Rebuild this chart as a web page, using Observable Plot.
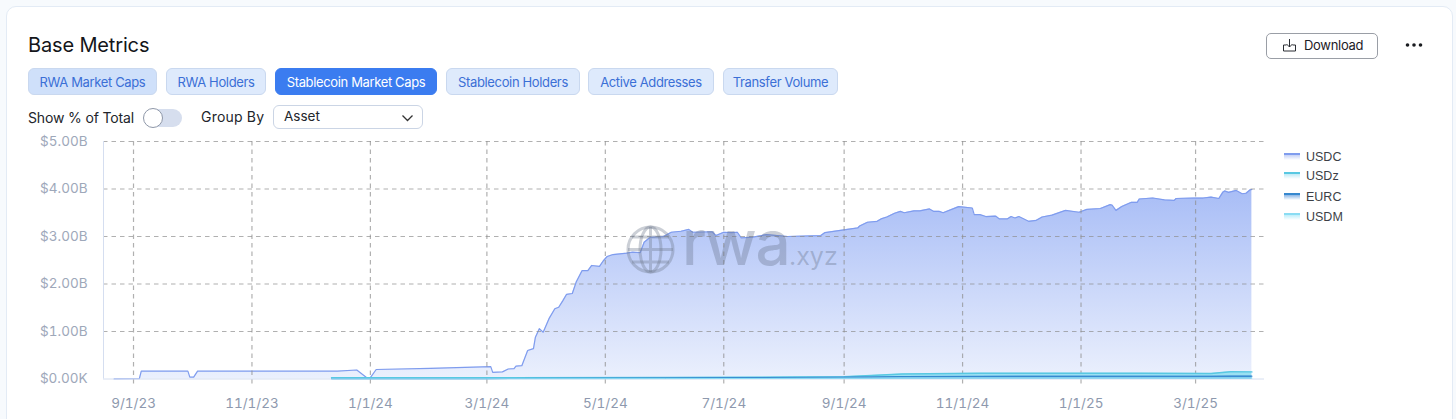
<!DOCTYPE html>
<html>
<head>
<meta charset="utf-8">
<script src="https://cdn.jsdelivr.net/npm/d3@7"></script>
<script src="https://cdn.jsdelivr.net/npm/@observablehq/plot@0.6"></script>
<style>
html,body{margin:0;padding:0;width:1456px;height:419px;overflow:hidden;background:#f7fafd;font-family:Inter,sans-serif;}
#card{position:absolute;left:6px;top:6px;width:1445px;height:440px;background:#fff;border:1.5px solid #e3ebf5;border-radius:10px;box-sizing:content-box;}
.abs{position:absolute;white-space:nowrap;}
.tab{position:absolute;top:68px;height:27px;line-height:26px;box-sizing:border-box;text-align:center;font-size:13px;letter-spacing:-.36px;border-radius:6px;background:#deeafc;border:1px solid #c9d8ef;color:#3b6fd6;}
#chart{position:absolute;left:0;top:130px;}
#chart svg{display:block;}
.lg{position:absolute;left:1306px;font:12.5px "Liberation Sans",Arial,sans-serif;color:#3c3f46;line-height:14px;}
.sw{position:absolute;left:1284px;width:16px;height:7px;}
</style>
</head>
<body>
<div id="card"></div>
<div class="abs" style="left:28px;top:33px;font-size:20px;line-height:24px;color:#14161a;letter-spacing:-.15px;">Base Metrics</div>
<div id="tabs"></div>
<div class="abs" style="left:28px;top:109px;font-size:14px;line-height:18px;color:#22252b;letter-spacing:-.15px;">Show % of Total</div>
<div class="abs" style="left:146px;top:109px;width:36px;height:18px;border-radius:9px;background:#d6deee;"></div>
<div class="abs" style="left:143px;top:108px;width:18px;height:18px;border-radius:50%;background:#fff;border:1px solid #8e97a8;"></div>
<div class="abs" style="left:201px;top:108px;font-size:14px;line-height:18px;color:#22252b;letter-spacing:.2px;">Group By</div>
<div class="abs" style="left:273px;top:105px;width:150px;height:24px;box-sizing:border-box;border:1px solid #cbd5e5;border-radius:6px;background:#fff;"></div>
<div class="abs" style="left:284px;top:107px;font-size:13.5px;line-height:18px;color:#22252b;">Asset</div>
<svg class="abs" style="left:401px;top:113px" width="13" height="10"><path d="M1.5 2.5 L6.5 7.5 L11.5 2.5" fill="none" stroke="#333" stroke-width="1.3"/></svg>
<div class="abs" style="left:1266px;top:33px;width:112px;height:26px;box-sizing:border-box;border:1px solid #9a9ea6;border-radius:5px;background:#fff;"></div>
<svg class="abs" style="left:1282px;top:38px" width="15" height="15"><path d="M7.5 1 V9 M4.5 6 L7.5 9 L10.5 6 M4.5 7 H1.5 V13 H13.5 V7 H10.5" fill="none" stroke="#2a2d33" stroke-width="1"/></svg>
<div class="abs" style="left:1304px;top:36px;font-size:13px;line-height:18px;color:#1d2026;letter-spacing:-.3px;">Download</div>
<svg class="abs" style="left:1404px;top:42px" width="20" height="6"><circle cx="3.5" cy="3" r="1.8" fill="#1a1c20"/><circle cx="10" cy="3" r="1.8" fill="#1a1c20"/><circle cx="16.5" cy="3" r="1.8" fill="#1a1c20"/></svg>
<div id="chart"></div>
<div id="legend"></div>
<svg class="abs" style="left:626px;top:225px" width="50" height="50"><g fill="none" stroke="#6e7a8c" stroke-opacity=".36" stroke-width="3">
<circle cx="24.5" cy="24.5" r="22.5"/><ellipse cx="24.5" cy="24.5" rx="10.5" ry="22.5"/><path d="M24.5 2 V47 M2 24.5 H47 M6 12 H43 M6 37 H43"/></g></svg>
<div class="abs" style="left:682px;top:208px;font-size:62px;font-weight:500;line-height:70px;color:rgba(100,112,135,.34);letter-spacing:-1.2px;">rwa</div>
<div class="abs" style="left:789px;top:239px;font-size:25px;line-height:34px;color:rgba(100,112,135,.36);">.xyz</div>
<script>
const tabNames=["RWA Market Caps","RWA Holders","Stablecoin Market Caps","Stablecoin Holders","Active Addresses","Transfer Volume"];
const tabLefts=[28,166,275,446,588,723];
const tabWidths=[129,100,162,134,126,115];

const yTicks=[0,1,2,3,4,5];
const yTickLabels=["$0.00K","$1.00B","$2.00B","$3.00B","$4.00B","$5.00B"];
const xTicks=["2023-09-01","2023-11-01","2024-01-01","2024-03-01","2024-05-01","2024-07-01","2024-09-01","2024-11-01","2025-01-01","2025-03-01"];
const xTickLabels=["9/1/23","11/1/23","1/1/24","3/1/24","5/1/24","7/1/24","9/1/24","11/1/24","1/1/25","3/1/25"];

const seriesNames=["USDC","USDz","EURC","USDM"];

// Stack tops, $B
const usdcDates=["2023-08-22","2023-09-04","2023-09-05","2023-09-29","2023-09-30","2023-10-02","2023-10-04","2023-12-15","2023-12-25","2023-12-30","2024-01-01","2024-01-04","2024-02-01","2024-03-03","2024-03-04","2024-03-09","2024-03-12","2024-03-15","2024-03-16","2024-03-19","2024-03-22","2024-03-25","2024-03-26","2024-03-28","2024-03-30","2024-04-02","2024-04-05","2024-04-07","2024-04-09","2024-04-11","2024-04-14","2024-04-16","2024-04-19","2024-04-22","2024-04-24","2024-04-28","2024-04-30","2024-05-02","2024-05-05","2024-05-12","2024-05-15","2024-05-19","2024-05-21","2024-05-24","2024-05-31","2024-06-04","2024-06-09","2024-06-13","2024-06-15","2024-06-25","2024-06-27","2024-07-01","2024-07-05","2024-07-08","2024-07-10","2024-07-16","2024-07-23","2024-08-03","2024-08-20","2024-08-22","2024-09-01","2024-09-08","2024-09-09","2024-09-13","2024-09-18","2024-09-20","2024-09-23","2024-09-27","2024-09-30","2024-10-02","2024-10-07","2024-10-10","2024-10-15","2024-10-17","2024-10-20","2024-10-22","2024-10-30","2024-11-06","2024-11-07","2024-11-10","2024-11-13","2024-11-18","2024-11-20","2024-11-24","2024-11-26","2024-11-28","2024-11-30","2024-12-05","2024-12-09","2024-12-12","2024-12-17","2024-12-24","2024-12-31","2025-01-04","2025-01-11","2025-01-16","2025-01-17","2025-01-19","2025-01-22","2025-01-27","2025-01-30","2025-01-31","2025-02-07","2025-02-13","2025-02-18","2025-02-19","2025-02-28","2025-03-05","2025-03-09","2025-03-13","2025-03-15","2025-03-16","2025-03-18","2025-03-22","2025-03-25","2025-03-27","2025-03-29","2025-03-30"];
const usdcTop=[0.002,0.005,0.165,0.165,0.04,0.04,0.165,0.165,0.19,0.03,0.03,0.2,0.225,0.26,0.14,0.15,0.21,0.22,0.27,0.28,0.6,0.64,0.88,1.06,0.985,1.27,1.48,1.51,1.64,1.78,1.8,2.04,2.28,2.28,2.39,2.37,2.49,2.58,2.62,2.65,2.67,2.66,2.88,2.98,3.0,3.09,3.11,3.15,3.09,3.1,3.02,3.09,3.08,3.09,2.97,2.985,3.04,3.0,3.02,3.08,3.14,3.18,3.22,3.3,3.32,3.37,3.41,3.49,3.53,3.5,3.54,3.54,3.58,3.53,3.53,3.5,3.63,3.6,3.46,3.46,3.42,3.43,3.37,3.37,3.42,3.39,3.42,3.32,3.34,3.41,3.45,3.55,3.51,3.57,3.59,3.67,3.66,3.55,3.63,3.72,3.72,3.79,3.81,3.77,3.76,3.8,3.81,3.81,3.83,3.8,3.93,3.96,3.93,3.97,3.9,3.91,3.98,3.99];

const lowDates=["2023-12-12","2024-03-01","2024-06-01","2024-09-01","2024-09-15","2024-10-01","2024-11-10","2025-02-01","2025-03-09","2025-03-19","2025-03-30"];
const usdzTop=[0.025,0.025,0.03,0.045,0.075,0.105,0.12,0.12,0.115,0.155,0.15];
const eurcTop=[0.008,0.01,0.018,0.035,0.04,0.05,0.055,0.058,0.058,0.06,0.06];
const usdmTop=[0.004,0.005,0.008,0.015,0.018,0.02,0.022,0.022,0.022,0.022,0.022];

const colors={USDC:"#7f9cee",USDz:"#58c8e2",EURC:"#3688cf",USDM:"#8adcf3"};
const fills={USDz:"#9be0f2",EURC:"#4a97d8",USDM:"#a8e4f6"};

document.getElementById("tabs").innerHTML=tabNames.map((t,i)=>{
  const extra=i===2?"background:#3b7cf0;border-color:#3b7cf0;color:#fff;":i===0?"background:#cfe0fa;":"";
  return `<div class="tab" style="left:${tabLefts[i]}px;width:${tabWidths[i]}px;${extra}">${t}</div>`;
}).join("");

const legendTops=[150,169,190,210];
const swatchFill={USDC:"#c5d1f6",USDz:"#bfeaf6",EURC:"#8ab6e6",USDM:"#bdeefa"};
document.getElementById("legend").innerHTML=seriesNames.map((s,i)=>
 `<div class="sw" style="top:${legendTops[i]+3}px;border-top:2px solid ${colors[s]};background:linear-gradient(${swatchFill[s]},#fff);box-sizing:border-box;"></div>
  <div class="lg" style="top:${legendTops[i]}px">${s}</div>`).join("");

const toRows=(dates,vals)=>dates.map((d,i)=>({date:new Date(d),value:vals[i]}));
const usdc=toRows(usdcDates,usdcTop), usdz=toRows(lowDates,usdzTop), eurc=toRows(lowDates,eurcTop), usdm=toRows(lowDates,usdmTop);
const xTickDates=xTicks.map(d=>new Date(d));

const defs=()=>{
  const g=d3.create("svg:defs");
  const lg=g.append("linearGradient").attr("id","usdcFill").attr("x1",0).attr("x2",0).attr("y1",0).attr("y2",1);
  lg.append("stop").attr("offset",0).attr("stop-color","#a8bdf6");
  lg.append("stop").attr("offset",1).attr("stop-color","#ebf0fd");
  return g.node();
};
const band=(rows,name,fill,w)=>[
  Plot.areaY(rows,{x:"date",y:"value",fill}),
  Plot.lineY(rows,{x:"date",y:"value",stroke:colors[name],strokeWidth:w})
];
const gridStyle={stroke:"#8f8f8f",strokeOpacity:.7,strokeWidth:1.2,strokeDasharray:"4.5 4"};

const plot=Plot.plot({
  width:1456,height:289,
  marginLeft:103,marginRight:192,marginTop:11,marginBottom:40.5,
  style:{background:"transparent",fontFamily:"Inter, sans-serif",fontSize:"14px",overflow:"visible"},
  x:{type:"utc",domain:[new Date("2023-08-16T13:00Z"),new Date("2025-04-05T12:00Z")]},
  y:{domain:[0,5]},
  marks:[
    defs,
    Plot.areaY(usdc,{x:"date",y:"value",fill:"url(#usdcFill)"}),
    Plot.lineY(usdc,{x:"date",y:"value",stroke:colors.USDC,strokeWidth:1.2}),
    Plot.ruleY(yTicks.slice(1),gridStyle),
    Plot.ruleX(xTickDates,{...gridStyle,insetBottom:-9}),
    Plot.ruleX([new Date("2023-08-16T13:00Z")],{stroke:"#d5def0",strokeWidth:1}),
    Plot.ruleY([0],{stroke:"#d5def0",strokeWidth:1}),
    ...band(usdz,"USDz",fills.USDz,1.5),
    ...band(eurc,"EURC",fills.EURC,1.2),
    ...band(usdm,"USDM",fills.USDM,1),
    Plot.axisX({ticks:xTickDates,tickFormat:(d,i)=>xTickLabels[i],tickSize:0,tickPadding:19,label:null,color:"#8e99ae",fontSize:13.5}),
    Plot.axisY({ticks:yTicks,tickFormat:(d,i)=>yTickLabels[i],tickSize:0,tickPadding:16,label:null,color:"#9ea8ba",fontSize:13.5})
  ]
});
document.getElementById("chart").appendChild(plot);
</script>
</body>
</html>
